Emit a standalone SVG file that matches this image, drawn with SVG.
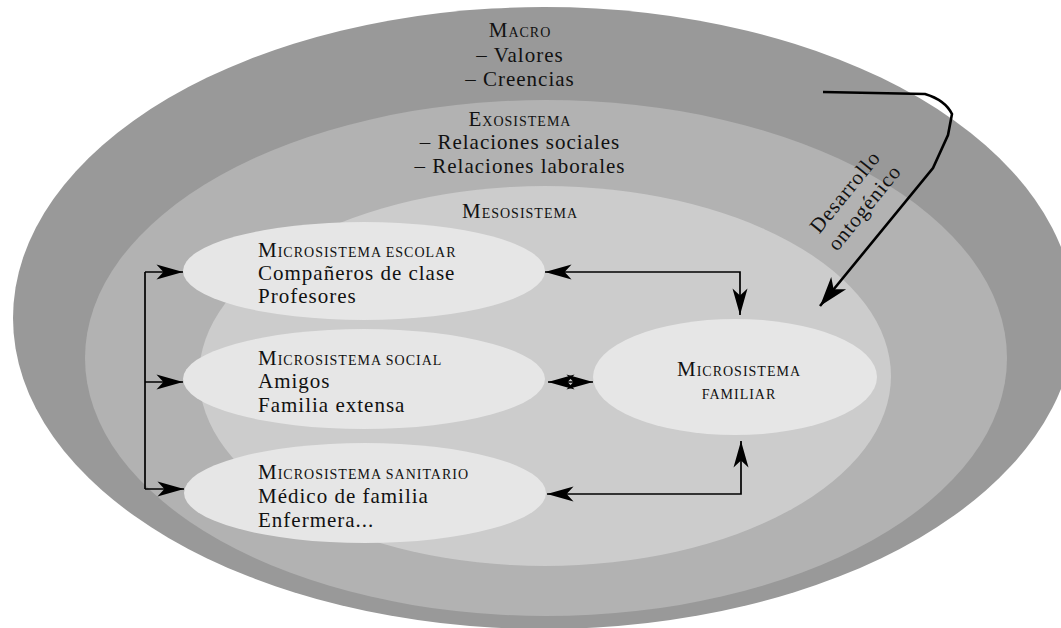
<svg xmlns="http://www.w3.org/2000/svg" width="1061" height="628" viewBox="0 0 1061 628">
<style>
.t{font-family:"Liberation Serif","Times New Roman",serif;font-size:21px;fill:#111;letter-spacing:1px}
.sc{font-size:14px}
.c{text-anchor:middle}
.con{fill:none;stroke:#000;stroke-width:1.7}
.lay{stroke:none}
</style>
<defs>
<marker id="ah" markerUnits="userSpaceOnUse" markerWidth="30" markerHeight="20" viewBox="-24 -8 26 16" refX="0" refY="0" orient="auto-start-reverse">
<path d="M0,0 L-23,-6.5 L-17,0 L-23,6.5 Z" fill="#000"/>
</marker>
<marker id="ahb" markerUnits="userSpaceOnUse" markerWidth="34" markerHeight="24" viewBox="-28 -10 30 20" refX="0" refY="0" orient="auto">
<path d="M0,0 L-26,-8.5 L-19,0 L-26,8.5 Z" fill="#000"/>
</marker>
</defs>
<g id="macro">
<ellipse class="lay" cx="544" cy="318" rx="531" ry="311" fill="#999999"/>
<text class="t c" x="520" y="37">M<tspan class="sc">ACRO</tspan></text>
<text class="t c" x="520" y="62">– Valores</text>
<text class="t c" x="520" y="86">– Creencias</text>
</g>
<g id="exosistema">
<ellipse class="lay" cx="546" cy="358" rx="461" ry="258" fill="#b2b2b2"/>
<text class="t c" x="520" y="126">E<tspan class="sc">XOSISTEMA</tspan></text>
<text class="t c" x="520" y="149">– Relaciones sociales</text>
<text class="t c" x="520" y="173">– Relaciones laborales</text>
</g>
<g id="mesosistema">
<ellipse class="lay" cx="545" cy="376" rx="346" ry="190" fill="#cccccc"/>
<text class="t c" x="520" y="218">M<tspan class="sc">ESOSISTEMA</tspan></text>
</g>
<g id="escolar">
<ellipse class="lay" cx="364" cy="271" rx="181" ry="49" fill="#e6e6e6"/>
<text class="t" x="258" y="257">M<tspan class="sc">ICROSISTEMA ESCOLAR</tspan></text>
<text class="t" x="258" y="280">Compañeros de clase</text>
<text class="t" x="258" y="303">Profesores</text>
</g>
<g id="social">
<ellipse class="lay" cx="364" cy="379" rx="181" ry="50" fill="#e6e6e6"/>
<text class="t" x="258" y="365">M<tspan class="sc">ICROSISTEMA SOCIAL</tspan></text>
<text class="t" x="258" y="388">Amigos</text>
<text class="t" x="258" y="412">Familia extensa</text>
</g>
<g id="sanitario">
<ellipse class="lay" cx="365" cy="493" rx="181" ry="50" fill="#e6e6e6"/>
<text class="t" x="258" y="479">M<tspan class="sc">ICROSISTEMA SANITARIO</tspan></text>
<text class="t" x="258" y="503">Médico de familia</text>
<text class="t" x="258" y="527">Enfermera...</text>
</g>
<g id="familiar">
<ellipse class="lay" cx="735" cy="377" rx="142" ry="58" fill="#e6e6e6"/>
<text class="t c" x="739" y="376">M<tspan class="sc">ICROSISTEMA</tspan></text>
<text class="t c sc" x="739" y="399">FAMILIAR</text>
</g>
<g id="desarrollo">
<g transform="translate(855,200) rotate(-51)">
<text class="t c" x="0" y="-6">Desarrollo</text>
<text class="t c" x="0" y="19">ontogénico</text>
</g>
</g>
<g id="connectors">
<path class="con" d="M145,272 V489"/>
<path class="con" d="M145,272 H183" marker-end="url(#ah)"/>
<path class="con" d="M145,382 H183" marker-end="url(#ah)"/>
<path class="con" d="M145,489 H184" marker-end="url(#ah)"/>
<path class="con" d="M545,272 H740 V315" marker-start="url(#ah)" marker-end="url(#ah)"/>
<path class="con" d="M547,494 H741 V441" marker-start="url(#ah)" marker-end="url(#ah)"/>
<path class="con" d="M548,382 H593" marker-start="url(#ah)" marker-end="url(#ah)"/>
<path class="con" style="stroke-width:2.6" d="M823,92 L925,94 Q945,100 952,114 L948,135 L933,168 L820,306" marker-end="url(#ahb)"/>
</g>
</svg>
